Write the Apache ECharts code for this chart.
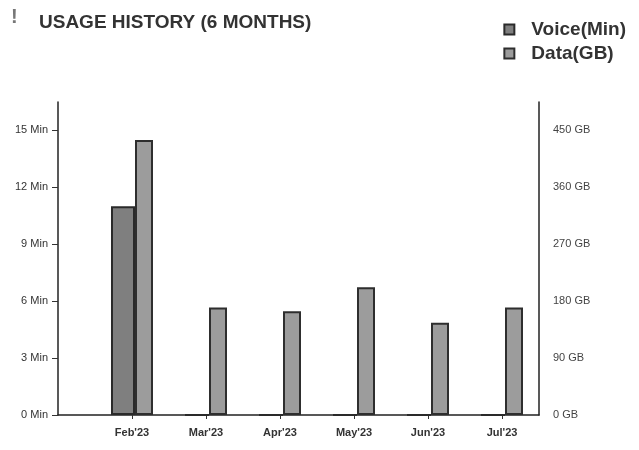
<!DOCTYPE html>
<html>
<head>
<meta charset="utf-8">
<script src="https://cdn.jsdelivr.net/npm/echarts@6/dist/echarts.min.js"></script>
<style>
html,body{margin:0;padding:0;background:#fff;}
#chart{width:639px;height:450px;}
</style>
</head>
<body>
<div id="chart"></div>
<script>
const categories = ["Feb'23", "Mar'23", "Apr'23", "May'23", "Jun'23", "Jul'23"];
const voiceMin = [11, 0, 0, 0, 0, 0];
const dataGB = [435, 170, 164, 202, 146, 170];
const minTicks = [0, 3, 6, 9, 12, 15];
const gbTicks = [0, 90, 180, 270, 360, 450];
const catIdx = categories.map((c, i) => i);

const FONT = "'Liberation Sans', Arial, sans-serif";
const chart = echarts.init(document.getElementById('chart'));
chart.setOption({
  backgroundColor: '#ffffff',
  animation: false,
  title: {
    text: 'USAGE HISTORY (6 MONTHS)',
    left: 34, top: 8,
    textStyle: { fontFamily: FONT, fontSize: 19, fontWeight: 'bold', color: '#333' }
  },
  graphic: [
    { type: 'text', left: 11, top: 7, style: { text: '!', fontFamily: FONT, fontSize: 20, fontWeight: 'bold', fill: '#777' } }
  ],
  legend: {
    right: 8, top: 15, orient: 'vertical', itemGap: 5,
    itemWidth: 10, itemHeight: 10, icon: 'rect',
    textStyle: { fontFamily: FONT, fontSize: 19, fontWeight: 'bold', color: '#333', padding: [0, 0, 0, 12] }
  },
  grid: { left: 58, right: 100, top: 102, bottom: 35, outerBoundsMode: 'none' },
  xAxis: {
    type: 'value', min: -1, max: 5.5, interval: 1,
    axisLine: { show: true, onZero: false, lineStyle: { color: '#222', width: 1.5 } },
    axisTick: { show: true, customValues: catIdx, length: 4, lineStyle: { color: '#333' } },
    axisLabel: { customValues: catIdx, formatter: v => categories[v] || '', fontFamily: FONT, fontSize: 11, fontWeight: 'bold', color: '#333', margin: 12 },
    splitLine: { show: false }
  },
  yAxis: [
    {
      type: 'value', min: 0, max: 16.5, interval: 3, position: 'left',
      axisLine: { show: true, onZero: false, lineStyle: { color: '#222', width: 1.5 } },
      axisTick: { show: true, customValues: minTicks, length: 6, lineStyle: { color: '#333' } },
      axisLabel: { customValues: minTicks, formatter: '{value} Min', fontFamily: FONT, fontSize: 11, color: '#333', margin: 10 },
      splitLine: { show: false }
    },
    {
      type: 'value', min: 0, max: 495, interval: 90, position: 'right',
      axisLine: { show: true, onZero: false, lineStyle: { color: '#222', width: 1.5 } },
      axisTick: { show: false },
      axisLabel: { customValues: gbTicks, formatter: '{value} GB', fontFamily: FONT, fontSize: 11, color: '#444', margin: 14 },
      splitLine: { show: false }
    }
  ],
  series: [
    {
      name: 'Voice(Min)', type: 'bar', yAxisIndex: 0, barWidth: 24, barGap: 0,
      data: voiceMin.map((v, i) => [i, v]),
      itemStyle: { color: '#7f7f7f', borderColor: '#2a2a2a', borderWidth: 2 }
    },
    {
      name: 'Data(GB)', type: 'bar', yAxisIndex: 1, barWidth: 18, barGap: 0,
      data: dataGB.map((v, i) => [i, v]),
      itemStyle: { color: '#9c9c9c', borderColor: '#2e2e2e', borderWidth: 2 }
    }
  ]
});
</script>
</body>
</html>
